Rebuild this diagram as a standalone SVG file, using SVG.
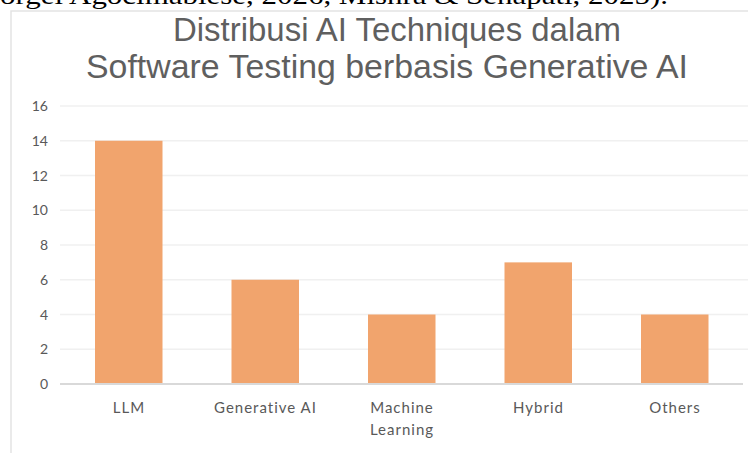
<svg xmlns="http://www.w3.org/2000/svg" width="748" height="453" viewBox="0 0 748 453">
  <style>
    .page { font-family: "Liberation Serif", "Times New Roman", serif; font-size: 26px; fill: #000; }
    .title { font-family: "Liberation Sans", Arial, sans-serif; font-size: 33px; fill: #5f5f5f; text-anchor: middle; }
    .tick { font-family: Lato, "Open Sans", sans-serif; fill: #595959; }
    .ylab { font-size: 14px; text-anchor: end; }
    .xlab { font-size: 15px; letter-spacing: 1px; text-anchor: middle; }
    .grid { stroke: #f0f0f0; stroke-width: 1.5; }
    .axis { stroke: #d9d9d9; stroke-width: 2; }
    .bar { fill: #f1a46d; }
    .frame { stroke: #e3e3e3; stroke-width: 1.5; fill: none; }
  </style>

  <rect width="748" height="453" fill="#ffffff"/>

  <!-- running text of the page above the chart, clipped at the top edge -->
  <text class="page" x="0" y="4" textLength="668" lengthAdjust="spacingAndGlyphs">orgei Agocimabiese, 2026, Mishra &amp; Senapati, 2025).</text>

  <!-- chart frame -->
  <path class="frame" d="M11,453 V11 H748"/>

  <!-- title -->
  <g id="title">
    <text class="title" x="397" y="41" textLength="448" lengthAdjust="spacingAndGlyphs">Distribusi AI Techniques dalam</text>
    <text class="title" x="387" y="78" textLength="602" lengthAdjust="spacingAndGlyphs">Software Testing berbasis Generative AI</text>
  </g>

  <!-- value axis: gridlines and labels (y = 384 - v * 17.375) -->
  <g id="value-axis">
    <line class="grid" x1="60" y1="106" x2="748" y2="106"/>
    <line class="grid" x1="60" y1="140.75" x2="748" y2="140.75"/>
    <line class="grid" x1="60" y1="175.5" x2="748" y2="175.5"/>
    <line class="grid" x1="60" y1="210.25" x2="748" y2="210.25"/>
    <line class="grid" x1="60" y1="245" x2="748" y2="245"/>
    <line class="grid" x1="60" y1="279.75" x2="748" y2="279.75"/>
    <line class="grid" x1="60" y1="314.5" x2="748" y2="314.5"/>
    <line class="grid" x1="60" y1="349.25" x2="748" y2="349.25"/>
    <text class="tick ylab" x="48" y="111">16</text>
    <text class="tick ylab" x="48" y="145.75">14</text>
    <text class="tick ylab" x="48" y="180.5">12</text>
    <text class="tick ylab" x="48" y="215.25">10</text>
    <text class="tick ylab" x="48" y="250">8</text>
    <text class="tick ylab" x="48" y="284.75">6</text>
    <text class="tick ylab" x="48" y="319.5">4</text>
    <text class="tick ylab" x="48" y="354.25">2</text>
    <text class="tick ylab" x="48" y="389">0</text>
  </g>

  <!-- bars -->
  <g id="bar-llm"><rect class="bar" x="95" y="140.75" width="67.5" height="243.25"/></g>
  <g id="bar-generative-ai"><rect class="bar" x="231.5" y="279.75" width="67.5" height="104.25"/></g>
  <g id="bar-machine-learning"><rect class="bar" x="368" y="314.5" width="67.5" height="69.5"/></g>
  <g id="bar-hybrid"><rect class="bar" x="504.5" y="262.375" width="67.5" height="121.625"/></g>
  <g id="bar-others"><rect class="bar" x="641" y="314.5" width="67.5" height="69.5"/></g>

  <!-- category axis -->
  <g id="category-axis">
    <line class="axis" x1="60" y1="384" x2="743" y2="384"/>
    <text class="tick xlab" x="129" y="413">LLM</text>
    <text class="tick xlab" x="265.5" y="413">Generative AI</text>
    <text class="tick xlab" x="402" y="413">Machine</text>
    <text class="tick xlab" x="402" y="435">Learning</text>
    <text class="tick xlab" x="538.5" y="413">Hybrid</text>
    <text class="tick xlab" x="675" y="413">Others</text>
  </g>
</svg>
